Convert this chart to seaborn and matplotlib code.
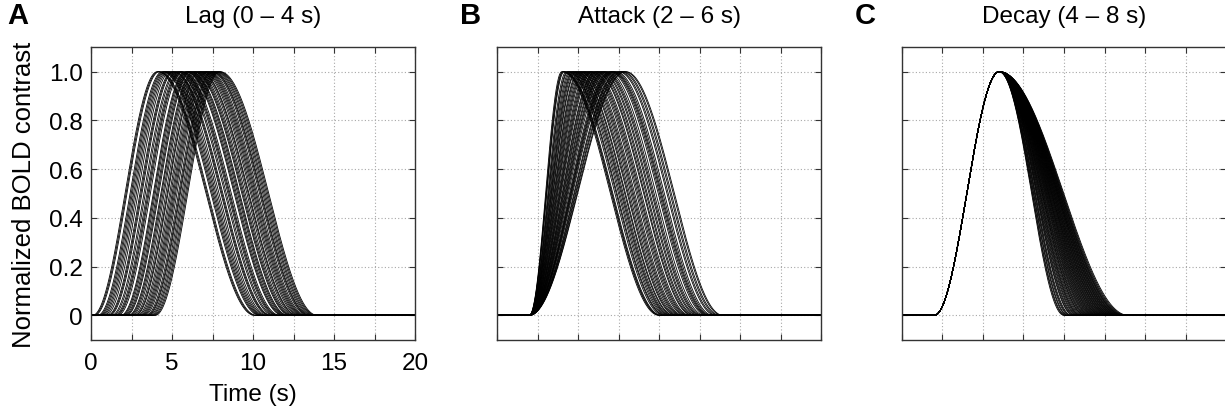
import numpy as np
import pandas as pd
import matplotlib
matplotlib.use("Agg")
import matplotlib.pyplot as plt
import seaborn as sns

# ---------------- data (parameters) ----------------
PANEL_LETTERS = ["A", "B", "C"]
PANEL_TITLES = ["Lag (0 \u2013 4 s)", "Attack (2 \u2013 6 s)", "Decay (4 \u2013 8 s)"]

DEFAULT_LAG = 2.0
DEFAULT_ATTACK = 4.0
DEFAULT_DECAY = 6.0

LAG_VALUES = [0.10, 0.16, 0.22, 0.41, 0.48, 0.55, 0.63, 0.71, 0.80, 0.90,
              1.02, 1.08, 1.14, 1.27, 1.35, 1.45, 1.52, 1.58, 1.66, 1.84,
              1.90, 1.97, 2.05, 2.12, 2.18, 2.31, 2.37, 2.44, 2.52, 2.62,
              2.70, 2.75, 2.85, 2.93, 3.01, 3.08, 3.15, 3.22, 3.30, 3.40,
              3.47, 3.52, 3.60, 3.68, 3.75, 3.83, 3.90, 3.97]

ATTACK_VALUES = [2.00, 2.06, 2.10, 2.15, 2.28, 2.36, 2.41, 2.50, 2.58, 2.66,
                 2.72, 2.79, 2.88, 2.93, 3.04, 3.10, 3.18, 3.27, 3.35, 3.42,
                 3.50, 3.61, 3.69, 3.77, 3.84, 3.92, 4.05, 4.11, 4.20, 4.27,
                 4.38, 4.45, 4.55, 4.62, 4.70, 4.81, 4.95, 5.03, 5.10, 5.16,
                 5.24, 5.33, 5.49, 5.57, 5.68, 5.76, 5.88, 5.95]

DECAY_VALUES = [4.00, 4.07, 4.12, 4.21, 4.26, 4.35, 4.41, 4.47, 4.58, 4.63,
                4.70, 4.76, 4.84, 4.90, 4.97, 5.03, 5.08, 5.15, 5.22, 5.29,
                5.33, 5.40, 5.46, 5.51, 5.58, 5.64, 5.69, 5.75, 5.81, 5.86,
                5.92, 5.97, 6.03, 6.08, 6.13, 6.19, 6.24, 6.30, 6.34, 6.40,
                6.45, 6.50, 6.55, 6.61, 6.65, 6.71, 6.76, 6.80, 6.86, 6.91,
                6.95, 7.01, 7.06, 7.10, 7.16, 7.21, 7.25, 7.31, 7.35, 7.40,
                7.46, 7.50, 7.55, 7.61, 7.66, 7.70, 7.76, 7.82, 7.89, 7.97]

TIME_MAX = 20.0
X_TICKS = [0, 2.5, 5, 7.5, 10, 12.5, 15, 17.5, 20]
X_TICK_LABELS = ["0", "", "5", "", "10", "", "15", "", "20"]
Y_TICKS = [0, 0.2, 0.4, 0.6, 0.8, 1.0]
Y_TICK_LABELS = ["0", "0.2", "0.4", "0.6", "0.8", "1.0"]


def response(t, lag, attack, decay):
    """Half-cosine rise / half-cosine fall response model."""
    y = np.zeros_like(t)
    rise = (t >= lag) & (t < lag + attack)
    y[rise] = 0.5 * (1 - np.cos(np.pi * (t[rise] - lag) / attack))
    fall = (t >= lag + attack) & (t < lag + attack + decay)
    y[fall] = 0.5 * (1 + np.cos(np.pi * (t[fall] - lag - attack) / decay))
    return y


t = np.linspace(0, TIME_MAX, 801)


def build(params):
    rows = []
    for i, (lg, at, dc) in enumerate(params):
        rows.append(pd.DataFrame({"t": t, "v": response(t, lg, at, dc), "curve": i}))
    return pd.concat(rows, ignore_index=True)


frames = [
    build([(v, DEFAULT_ATTACK, DEFAULT_DECAY) for v in LAG_VALUES]),
    build([(DEFAULT_LAG, v, DEFAULT_DECAY) for v in ATTACK_VALUES]),
    build([(DEFAULT_LAG, DEFAULT_ATTACK, v) for v in DECAY_VALUES]),
]

# ---------------- plotting ----------------
sns.set_theme(style="white")
plt.rcParams["font.family"] = ["Liberation Sans", "DejaVu Sans"]
plt.rcParams["text.color"] = "black"
plt.rcParams["axes.labelcolor"] = "black"

FS = 17.5

fig = plt.figure(figsize=(12.25, 4.10), dpi=100)
lefts = [91 / 1225, 497 / 1225, 902 / 1225]
W = 324 / 1225
B = 69.3 / 410
H = 292.4 / 410
letter_x = [7 / 1225, 460 / 1225, 855 / 1225]

for k in range(3):
    ax = fig.add_axes([lefts[k], B, W, H])
    sns.lineplot(data=frames[k], x="t", y="v", units="curve", estimator=None,
                 color="black", lw=0.6, ax=ax, legend=False)
    ax.set_xlim(0, 20)
    ax.set_ylim(-0.1, 1.1)
    ax.set_xticks(X_TICKS)
    ax.set_yticks(Y_TICKS)
    ax.grid(True, color="#a8a8a8", linestyle=(0, (1, 2)), lw=0.8)
    ax.tick_params(direction="in", length=4, width=0.8, top=True, right=True,
                   bottom=True, left=True, colors="#333333", labelcolor="black",
                   labelsize=FS, pad=6)
    ax.tick_params(axis="x", pad=9)
    for s in ax.spines.values():
        s.set_color("#333333")
        s.set_linewidth(1.0)
    if k == 0:
        ax.set_xticklabels(X_TICK_LABELS)
        ax.set_yticklabels(Y_TICK_LABELS)
        ax.set_xlabel("Time (s)", fontsize=FS, labelpad=6)
        ax.set_ylabel("Normalized BOLD contrast", fontsize=18.5, labelpad=9)
    else:
        ax.set_xticklabels([])
        ax.set_yticklabels([])
        ax.set_xlabel("")
        ax.set_ylabel("")
    ax.set_title(PANEL_TITLES[k], fontsize=FS, pad=18, color="black")
    fig.text(letter_x[k], 0.995, PANEL_LETTERS[k], fontsize=21, fontweight="bold",
             va="top", ha="left", color="black")

fig.savefig("out.png", dpi=100)
